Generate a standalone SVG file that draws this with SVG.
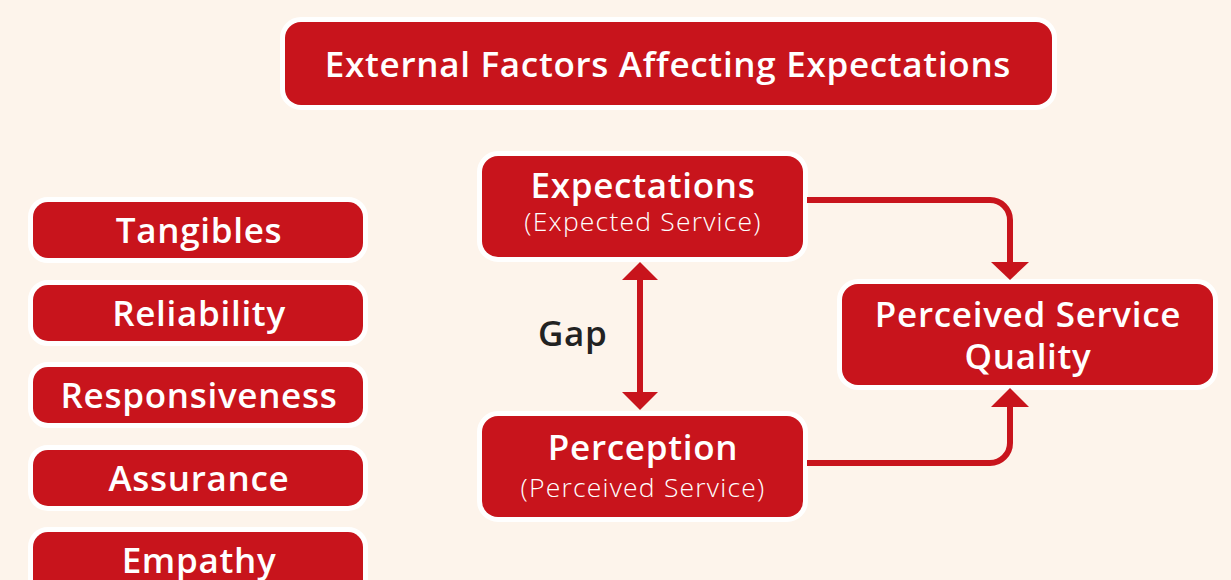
<svg xmlns="http://www.w3.org/2000/svg" width="1231" height="580" viewBox="0 0 1231 580">
  <defs>
    <style>
      .box { fill: #C8141C; stroke: #FFFFFF; stroke-width: 10; paint-order: stroke; }
      .lbl { font-family: "Open Sans", "Liberation Sans", sans-serif; font-weight: 600; fill: #FFFFFF; text-anchor: middle; font-size: 35px; letter-spacing: 0.7px; }
      .sub { font-family: "Open Sans", "Liberation Sans", sans-serif; font-weight: 300; fill: #FFFFFF; text-anchor: middle; font-size: 26.5px; letter-spacing: 1.2px; }
      .conn { fill: none; stroke: #C8141C; stroke-width: 6; }
      .head { fill: #C8141C; }
      .gap { font-family: "Open Sans", "Liberation Sans", sans-serif; font-weight: 600; fill: #222222; font-size: 35px; letter-spacing: 0.7px; }
    </style>
  </defs>
  <rect width="1231" height="580" fill="#FDF4EB"/>

  <g id="external-factors">
    <rect class="box" x="285" y="22" width="767" height="83" rx="16"/>
    <text class="lbl" x="668" y="77">External Factors Affecting Expectations</text>
  </g>

  <g id="tangibles">
    <rect class="box" x="33" y="202" width="330" height="56" rx="15"/>
    <text class="lbl" x="199" y="243">Tangibles</text>
  </g>
  <g id="reliability">
    <rect class="box" x="33" y="285" width="330" height="56" rx="15"/>
    <text class="lbl" x="199" y="326">Reliability</text>
  </g>
  <g id="responsiveness">
    <rect class="box" x="33" y="367" width="330" height="56" rx="15"/>
    <text class="lbl" x="199" y="408">Responsiveness</text>
  </g>
  <g id="assurance">
    <rect class="box" x="33" y="450" width="330" height="56" rx="15"/>
    <text class="lbl" x="199" y="491">Assurance</text>
  </g>
  <g id="empathy">
    <rect class="box" x="33" y="532" width="330" height="70" rx="15"/>
    <text class="lbl" x="199" y="573">Empathy</text>
  </g>

  <g id="expectations">
    <rect class="box" x="482" y="156" width="321" height="101" rx="16"/>
    <text class="lbl" x="643" y="198">Expectations</text>
    <text class="sub" x="643" y="231">(Expected Service)</text>
  </g>
  <g id="perception">
    <rect class="box" x="482" y="416" width="321" height="101" rx="16"/>
    <text class="lbl" x="643" y="460">Perception</text>
    <text class="sub" x="643" y="497">(Perceived Service)</text>
  </g>
  <g id="perceived-quality">
    <rect class="box" x="842" y="284" width="371" height="101" rx="16"/>
    <text class="lbl" x="1028" y="327">Perceived Service</text>
    <text class="lbl" x="1028" y="369">Quality</text>
  </g>

  <g id="connectors">
    <!-- gap: two-way arrow between expectations and perception -->
    <line class="conn" x1="640" y1="276" x2="640" y2="396"/>
    <polygon class="head" points="640,262 658,280 622,280"/>
    <polygon class="head" points="640,410 658,392 622,392"/>
    <!-- expectations to perceived quality -->
    <path class="conn" d="M807,200 H990 A20,20 0 0 1 1010,220 V266"/>
    <polygon class="head" points="1010,280 1029,262 991,262"/>
    <!-- perception to perceived quality -->
    <path class="conn" d="M807,463 H990 A20,20 0 0 0 1010,443 V403"/>
    <polygon class="head" points="1010,388 1029,407 991,407"/>
  </g>

  <text class="gap" x="538" y="346">Gap</text>
</svg>
